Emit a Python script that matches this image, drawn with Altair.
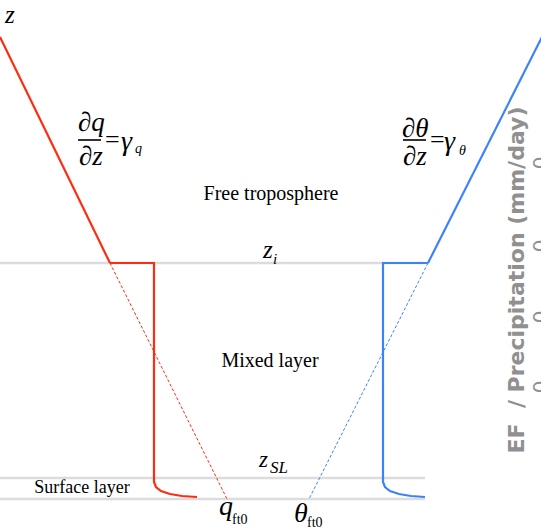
import altair as alt
import pandas as pd

# ---- schematic coordinates (arbitrary units): x = q / theta, z = height ----
X_DOMAIN = [0, 541]
Z_DOMAIN = [-30, 499]

# reference heights (z_i, z_SL, surface)
level_z = [236, 21, 0]
level_x0 = [0, 0, 0]
level_x1 = [425, 425, 425]

# specific humidity profile (red)
q_ft_x = [0, 110]
q_ft_z = [462, 236]
q_ext_x = [110, 227]
q_ext_z = [236, 0]
q_ml_x = [110, 154, 154, 156, 161, 170, 182, 197]
q_ml_z = [236, 236, 17, 12, 8, 5, 3, 2]

# potential temperature profile (blue)
th_ft_x = [428, 551]
th_ft_z = [236, 480]
th_ext_x = [428, 309]
th_ext_z = [236, 0]
th_ml_x = [428, 383, 383, 385, 390, 399, 411, 425]
th_ml_z = [236, 236, 17, 12, 8, 5, 3, 2]

# ghost tick labels of a neighbouring panel (right edge)
ghost_tick_z = [336, 253, 182, 112]

RED = "#fe2c10"
BLUE = "#3d83f5"
GRAY = "#dcdcdc"
SERIF = "Liberation Serif"

xs = alt.Scale(domain=X_DOMAIN, nice=False, zero=False)
zs = alt.Scale(domain=Z_DOMAIN, nice=False, zero=False)


def line(xv, zv, color, width, dash=None):
    df = pd.DataFrame({"x": xv, "z": zv, "i": list(range(len(xv)))})
    kw = dict(color=color, strokeWidth=width, clip=True)
    if dash:
        kw["strokeDash"] = dash
    return alt.Chart(df).mark_line(**kw).encode(
        x=alt.X("x:Q", scale=xs, axis=None),
        y=alt.Y("z:Q", scale=zs, axis=None),
        order="i:O",
    )


def label(t, x, z, size, italic=False, font=SERIF, align="left", angle=0,
          color="black", weight="normal", baseline="alphabetic"):
    kw = dict(text=t, fontSize=size, font=font, align=align, color=color,
              fontWeight=weight, baseline=baseline)
    if italic:
        kw["fontStyle"] = "italic"
    if angle:
        kw["angle"] = angle
    return alt.Chart(pd.DataFrame({"a": [0]})).mark_text(**kw).encode(
        x=alt.datum(x, scale=xs), y=alt.datum(z, scale=zs))


def bar(x0, x1, z):
    return alt.Chart(pd.DataFrame({"a": [0]})).mark_rule(
        color="black", strokeWidth=1.6).encode(
        x=alt.datum(x0, scale=xs), x2=alt.datum(x1), y=alt.datum(z, scale=zs))


levels_df = pd.DataFrame({"x0": level_x0, "x1": level_x1, "z": level_z})
levels = alt.Chart(levels_df).mark_rule(color=GRAY, strokeWidth=2.5).encode(
    x=alt.X("x0:Q", scale=xs, axis=None), x2="x1:Q",
    y=alt.Y("z:Q", scale=zs, axis=None))

layers = [
    levels,
    line(q_ext_x, q_ext_z, RED, 1, [3, 2]),
    line(th_ext_x, th_ext_z, BLUE, 1, [3, 2]),
    line(q_ft_x, q_ft_z, RED, 2.2),
    line(q_ml_x, q_ml_z, RED, 2.2),
    line(th_ft_x, th_ft_z, BLUE, 2.2),
    line(th_ml_x, th_ml_z, BLUE, 2.2),
    # axis label z
    label("z", 5, 476, 25, italic=True),
    # dq/dz = gamma_q
    label("∂q", 78, 368, 27, italic=True),
    bar(78, 101, 359),
    label("∂z", 79, 334, 27, italic=True),
    label("=", 105, 351, 26),
    label("γ", 121, 349, 28, italic=True),
    label("q", 135, 346, 14, italic=True),
    # dtheta/dz = gamma_theta
    label("∂θ", 402, 362, 27, italic=True),
    bar(403, 426, 359),
    label("∂z", 403, 334, 27, italic=True),
    label("=", 430, 351, 26),
    label("γ", 444, 349, 28, italic=True),
    label("θ", 459, 344, 14, italic=True),
    # layer names
    label("Free troposphere", 271, 299, 20, align="center"),
    label("Mixed layer", 270, 132, 20, align="center"),
    label("Surface layer", 82, 6, 18, align="center"),
    # z_i
    label("z", 263, 241, 25, italic=True),
    label("i", 273, 235, 15, italic=True),
    # z_SL
    label("z", 259, 32, 23, italic=True),
    label("SL", 270, 26, 17, italic=True),
    # q_ft0, theta_ft0
    label("q", 219, -16, 28, italic=True),
    label("ft0", 232, -25, 14),
    label("θ", 294, -23, 28, italic=True),
    label("ft0", 307, -28, 14),
    # ghost axis title of a neighbouring panel
    label("EF\u00a0\u00a0/ Precipitation (mm/day)", 524, 219, 22, font="DejaVu Sans",
          align="center", angle=270, color="#909090", weight="bold"),
]
for tz in ghost_tick_z:
    layers.append(label("0", 547, tz, 20, font="DejaVu Sans", align="center",
                        angle=270, color="#909090"))

chart = alt.layer(*layers).properties(
    width=541, height=529,
    autosize=alt.AutoSizeParams(type="none"),
    padding=0,
    background="white",
).configure_view(stroke=None)

chart.save("out.html", embed_options={"renderer": "svg", "actions": False})
